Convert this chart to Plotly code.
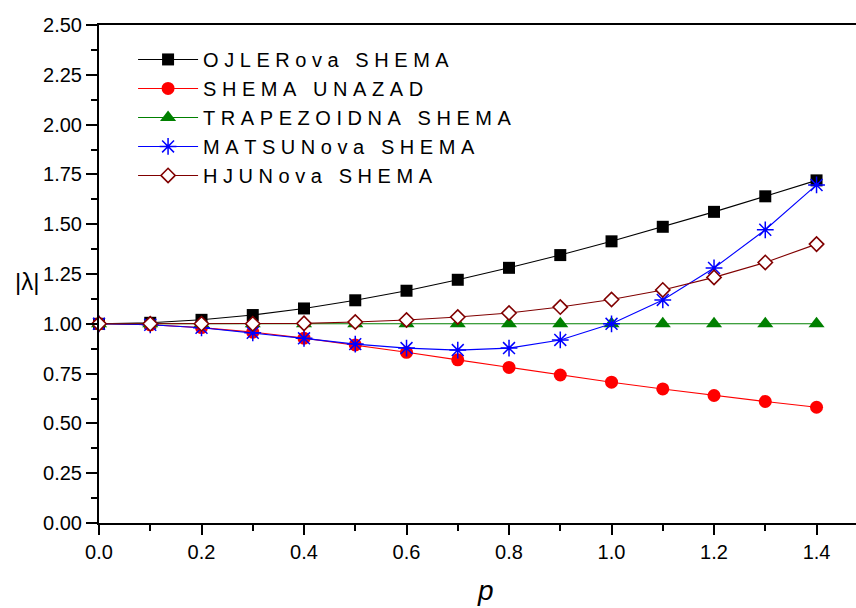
import plotly.graph_objects as go

# Step parameter p
p = [0.0, 0.1, 0.2, 0.3, 0.4, 0.5, 0.6, 0.7, 0.8, 0.9, 1.0, 1.1, 1.2, 1.3, 1.4]

# |lambda| for each scheme
ojler = [1.000, 1.005, 1.020, 1.044, 1.077, 1.118, 1.166, 1.221, 1.281, 1.345,
         1.414, 1.487, 1.562, 1.640, 1.720]
unazad = [1.000, 0.995, 0.981, 0.958, 0.928, 0.894, 0.857, 0.819, 0.781, 0.743,
          0.707, 0.673, 0.640, 0.610, 0.581]
trapez = [1.000, 1.000, 1.000, 1.000, 1.000, 1.000, 1.000, 1.000, 1.000, 1.000,
          1.000, 1.000, 1.000, 1.000, 1.000]
matsun = [1.000, 0.995, 0.980, 0.955, 0.927, 0.898, 0.878, 0.868, 0.878, 0.919,
          1.000, 1.120, 1.280, 1.472, 1.697]
hjun = [1.000, 1.000, 1.000, 1.000, 1.002, 1.009, 1.019, 1.034, 1.054, 1.084,
        1.122, 1.170, 1.233, 1.308, 1.400]

names = ["OJLERova SHEMA", "SHEMA UNAZAD", "TRAPEZOIDNA SHEMA",
         "MATSUNova SHEMA", "HJUNova SHEMA"]

y_ticks = [0.0, 0.25, 0.5, 0.75, 1.0, 1.25, 1.5, 1.75, 2.0, 2.25, 2.5]
x_ticks = [0.0, 0.2, 0.4, 0.6, 0.8, 1.0, 1.2, 1.4]

FONT = "Liberation Sans, Arial, sans-serif"


def spaced(s):
    # wide letter spacing for legend labels
    return "\u00a0".join(s.replace(" ", "\u00a0"))


styles = [
    dict(color="black", marker=dict(symbol="square", size=12, color="black")),
    dict(color="#ff0000", marker=dict(symbol="circle", size=13, color="#ff0000")),
    dict(color="#008000", marker=dict(symbol="triangle-up", size=14, color="#008000")),
    dict(color="#0000ff", marker=dict(symbol="asterisk-open", size=14, color="#0000ff",
                                      line=dict(color="#0000ff", width=1.5))),
    dict(color="#800000", marker=dict(symbol="diamond", size=11, color="white",
                                      line=dict(color="#800000", width=1.6))),
]

fig = go.Figure()
for name, ys, st in zip(names, [ojler, unazad, trapez, matsun, hjun], styles):
    fig.add_trace(go.Scatter(
        x=p, y=ys, mode="lines+markers", name=spaced(name),
        line=dict(color=st["color"], width=1.1),
        marker=st["marker"], cliponaxis=False,
    ))

fig.update_layout(
    width=856, height=608,
    margin=dict(l=99, r=0, t=25, b=85),
    plot_bgcolor="white", paper_bgcolor="white",
    font=dict(family=FONT, size=20, color="black"),
    showlegend=True,
    legend=dict(x=0.045, y=0.97, xanchor="left", yanchor="top",
                bgcolor="rgba(0,0,0,0)", font=dict(size=20, family=FONT),
                itemwidth=60, tracegroupgap=0),
    xaxis=dict(range=[0, 1.477], tickvals=x_ticks, tickformat=".1f",
               showline=True, linecolor="black", linewidth=2, mirror=True,
               ticks="outside", ticklen=10, tickwidth=2, tickcolor="black",
               minor=dict(dtick=0.1, ticks="outside", ticklen=6, tickwidth=2,
                          tickcolor="black"),
               showgrid=False, zeroline=False,
               tickfont=dict(size=20, family=FONT)),
    yaxis=dict(range=[0, 2.5], tickvals=y_ticks, tickformat=".2f",
               showline=True, linecolor="black", linewidth=2,
               ticks="outside", ticklen=11, tickwidth=2, tickcolor="black",
               minor=dict(dtick=0.125, ticks="outside", ticklen=6, tickwidth=2,
                          tickcolor="black"),
               showgrid=False, zeroline=False,
               tickfont=dict(size=20, family=FONT)),
)

# axis titles
fig.add_annotation(text="|λ|", xref="paper", yref="paper", x=0, y=0.484,
                   xshift=-72, xanchor="center", yanchor="middle",
                   showarrow=False, font=dict(size=24, family=FONT))
fig.add_annotation(text="<i>p</i>", xref="paper", yref="paper", x=0.511, y=0,
                   yshift=-50, xanchor="center", yanchor="top",
                   showarrow=False, font=dict(size=28, family=FONT))

fig.write_html("out.html")
